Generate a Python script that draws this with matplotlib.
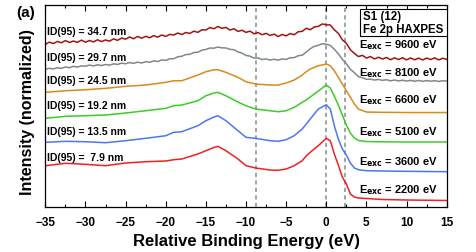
import matplotlib
matplotlib.use("Agg")
from matplotlib import pyplot as plt
from matplotlib.patches import Rectangle
from matplotlib.ticker import MultipleLocator
import numpy as np

plt.rcParams['font.family'] = ['Liberation Sans', 'DejaVu Sans']
plt.rcParams['font.weight'] = 'bold'

# relative binding energy (eV)
energy = [-35, -32.5, -30, -27.5, -25, -22.5, -20, -19, -18, -16, -15, -14, -13.5,
          -12.5, -11, -10, -8.8, -7, -6, -5, -4, -3, -2.5, -2, -1, 0, 0.5, 1, 1.5,
          2, 2.5, 3, 3.5, 4, 5, 7, 10, 15]
# the two noisy high-energy spectra are read every 0.5 eV
energy_fine = np.arange(-35, 15.01, 0.5)

# offset spectra (arb. units), lowest to highest
i_2200 = [41.6, 44.0, 43.0, 41.6, 44.3, 45.6, 46.3, 47.6, 48.3, 53.3, 56.6, 59.8, 61.0,
          56.6, 48.3, 41.6, 39.3, 37.3, 37.0, 38.3, 41.6, 46.6, 51.3, 55.0, 61.6, 69.0,
          66.6, 53.3, 42.3, 30.3, 23.3, 13.3, 10.3, 9.3, 8.8, 7.8, 7.3, 6.8]
i_3600 = [65.0, 66.0, 65.6, 64.6, 66.6, 69.0, 71.6, 75.0, 75.6, 81.6, 86.6, 90.3, 91.6,
          86.6, 76.6, 70.0, 69.0, 66.6, 66.0, 67.6, 71.6, 78.3, 83.3, 88.3, 98.3, 102.6,
          98.3, 81.6, 68.3, 58.3, 52.3, 44.3, 39.3, 37.6, 36.6, 36.3, 36.0, 35.6]
i_5100 = [89.0, 91.0, 91.6, 92.3, 94.3, 96.6, 99.0, 101.6, 102.3, 106.6, 111.6, 114.3, 115.0,
          111.6, 105.3, 101.6, 98.3, 96.6, 95.6, 96.6, 100.0, 105.0, 107.3, 110.3, 116.3, 122.3,
          119.3, 111.3, 102.3, 92.3, 82.3, 74.3, 69.3, 66.8, 65.8, 65.5, 65.3, 65.3]
i_6600 = [115.0, 116.6, 117.6, 119.0, 121.0, 122.3, 125.0, 126.6, 126.6, 132.3, 135.6, 137.6, 137.6,
          135.0, 130.0, 125.6, 123.3, 122.3, 122.3, 124.3, 127.3, 132.3, 135.6, 138.3, 141.6, 143.3,
          141.6, 136.6, 130.0, 123.3, 116.6, 110.0, 103.3, 98.3, 95.3, 95.0, 94.8, 94.8]
i_8100 = [138.0, 139.1, 138.4, 139.6, 139.0, 140.4, 139.6, 141.0, 140.3, 141.5,
          141.2, 142.3, 141.4, 142.6, 141.8, 142.9, 142.2, 143.5, 142.9, 144.2,
          143.6, 144.8, 144.0, 145.2, 144.4, 145.6, 145.0, 146.5, 145.8, 147.4,
          147.0, 148.6, 148.6, 150.6, 151.1, 152.8, 153.0, 154.8, 155.1, 157.2,
          157.9, 159.3, 159.2, 160.3, 159.5, 159.4, 158.0, 157.6, 155.4, 154.2,
          151.9, 151.2, 149.3, 149.4, 147.8, 148.4, 147.3, 148.1, 147.2, 148.4,
          148.0, 149.6, 149.7, 151.6, 152.2, 155.3, 158.6, 161.0, 162.0, 163.6,
          163.1, 162.0, 158.0, 153.6, 148.0, 143.6, 138.0, 134.6, 130.8, 129.6,
          128.0, 128.2, 127.3, 127.9, 127.0, 127.6, 126.5, 127.3, 126.4, 127.1,
          126.3, 127.0, 126.1, 126.9, 126.0, 126.8, 126.1, 126.7, 125.9, 126.6,
          126.2]
i_9600 = [163.0, 165.2, 163.8, 165.9, 164.6, 166.8, 164.9, 166.3, 165.0, 167.2,
          165.1, 166.9, 165.4, 167.6, 165.8, 167.4, 166.2, 168.5, 167.0, 169.3,
          168.2, 170.4, 168.6, 170.9, 169.1, 171.0, 169.6, 171.8, 170.2, 172.4,
          170.9, 173.0, 172.4, 174.3, 172.8, 174.9, 173.9, 176.2, 175.0, 177.6,
          177.4, 179.8, 178.6, 180.9, 179.0, 179.9, 177.3, 178.6, 176.0, 177.1,
          175.0, 176.2, 173.6, 174.8, 172.6, 174.0, 171.9, 173.2, 170.8, 172.9,
          171.5, 173.8, 172.6, 175.6, 176.0, 179.1, 177.6, 180.4, 181.0, 183.4,
          182.6, 182.4, 177.6, 174.0, 167.6, 164.0, 157.6, 154.0, 150.8, 152.0,
          149.3, 150.8, 148.4, 150.1, 148.3, 149.9, 147.6, 149.5, 147.8, 149.6,
          147.5, 149.4, 147.6, 149.2, 147.4, 149.3, 147.8, 149.5, 147.5, 149.1,
          148.0]

spectra = [(energy, i_2200), (energy, i_3600), (energy, i_5100), (energy, i_6600),
           (energy_fine, i_8100), (energy_fine, i_9600)]
colors = ['#ee2020', '#4a78ee', '#3ccc28', '#d98a1c', '#7f8a88', '#a01414']
e_exc = ['2200', '3600', '5100', '6600', '8100', '9600']
id95 = [' 7.9', '13.5', '19.2', '24.5', '29.7', '34.7']
# label heights in data units
id_y = [50.6, 76.6, 102.3, 127.3, 150.3, 176.3]
e_y = [18.3, 46.6, 76.6, 108.3, 135.6, 163.3]

ref_lines = [-8.8, 0, 2.3]

fig = plt.figure(figsize=(4.77, 2.53), dpi=100)
ax = fig.add_axes([0.095, 0.1767, 0.8415, 0.7993])

for v in ref_lines:
    ax.axvline(v, color='#8a9898', ls=(0, (2.5, 2)), lw=1.2, zorder=1)

for (x, y), c in zip(spectra, colors):
    ax.plot(x, y, color=c, lw=1.1, zorder=2)

for lab, yy in zip(id95, id_y):
    ax.text(-34.8, yy, 'ID(95) = %s nm' % lab, fontsize=7.5, fontweight='bold',
            va='center', ha='left')
for lab, yy in zip(e_exc, e_y):
    ax.text(13.9, yy, r'E$_{\mathbf{exc}}$ = %s eV' % lab, fontsize=8, fontweight='bold',
            va='center', ha='right')

ax.add_patch(Rectangle((0.784, 0.848), 0.216, 0.132, transform=ax.transAxes,
                       fc='white', ec='black', lw=0.8, zorder=4))
ax.text(0.791, 0.914, 'S1 (12)\nFe 2p HAXPES', transform=ax.transAxes, fontsize=8.3,
        fontweight='bold', va='center', ha='left', linespacing=1.1, zorder=5)

ax.set_xlim(-35, 15)
ax.set_ylim(0, 202.3)
ax.xaxis.set_major_locator(MultipleLocator(5))
ax.xaxis.set_minor_locator(MultipleLocator(2.5))
ax.tick_params(axis='x', which='both', direction='in', top=True, labelsize=8.5, width=0.8)
ax.tick_params(axis='x', which='major', length=4.5, pad=6)
ax.tick_params(axis='x', which='minor', length=2.5)
ax.set_yticks([])
for lab in ax.get_xticklabels():
    lab.set_fontweight('bold')
for s in ax.spines.values():
    s.set_linewidth(0.9)

ax.set_xlabel('Relative Binding Energy (eV)', fontsize=12, fontweight='bold', labelpad=4)
ax.set_ylabel('Intensity (normalized)', fontsize=11.5, fontweight='bold')
ax.yaxis.set_label_coords(-0.025, 0.478)
fig.text(0.035, 0.95, '(a)', fontsize=11, fontweight='bold', va='center')

fig.savefig('out.png', dpi=100)
